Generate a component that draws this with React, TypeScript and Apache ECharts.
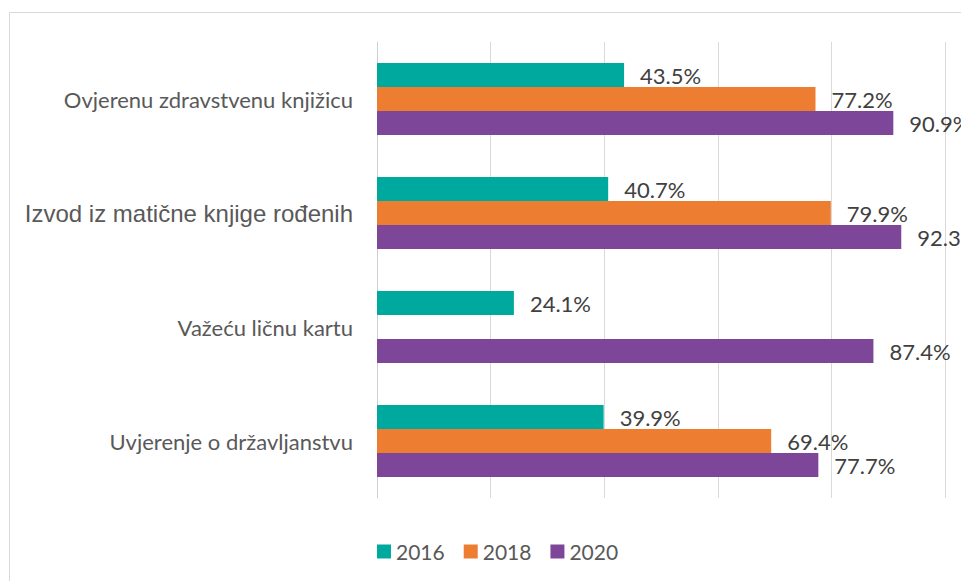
import React, { useEffect, useRef } from "react";
import * as echarts from "echarts";

const categories = [
  "Ovjerenu zdravstvenu knjižicu",
  "Izvod iz matične knjige rođenih",
  "Važeću ličnu kartu",
  "Uvjerenje o državljanstvu",
];
const seriesNames = ["2016", "2018", "2020"];
const values2016 = [43.5, 40.7, 24.1, 39.9];
const values2018: (number | null)[] = [77.2, 79.9, null, 69.4];
const values2020 = [90.9, 92.3, 87.4, 77.7];
const colors = ["#00A99D", "#ED7D31", "#7D4698"];

export default function App() {
  const ref = useRef<HTMLDivElement>(null);
  useEffect(() => {
    if (!ref.current) return;
    const chart = echarts.init(ref.current, undefined, { renderer: "svg" });
    const dataSets = [values2016, values2018, values2020];
    chart.setOption({
      animation: false,
      backgroundColor: "#ffffff",
      graphic: [
        {
          type: "rect",
          shape: { x: 9.5, y: 12.5, width: 1000, height: 1000 },
          style: { fill: "none", stroke: "#d9d9d9", lineWidth: 1 },
          silent: true,
          z: -1,
        },
      ],
      grid: { left: 377, right: 16, top: 42, bottom: 83, containLabel: false },
      legend: {
        left: 372,
        top: 536,
        itemWidth: 14,
        itemHeight: 14,
        itemGap: 19,
        icon: "rect",
        textStyle: { fontFamily: "Lato", fontSize: 21, color: "#595959" },
        data: seriesNames,
      },
      xAxis: {
        type: "value",
        min: 0,
        max: 100,
        interval: 20,
        axisLabel: { show: false },
        axisLine: { show: false },
        axisTick: { show: false },
        splitLine: { show: true, lineStyle: { color: "#d9d9d9", width: 1 } },
      },
      yAxis: {
        type: "category",
        inverse: true,
        data: categories,
        axisTick: { show: false },
        axisLine: { show: true, lineStyle: { color: "#d0d0d0", width: 1 } },
        axisLabel: {
          margin: 24,
          formatter: (v: string) => (v.startsWith("Izvod") ? `{b|${v}}` : `{a|${v}}`),
          rich: {
            a: { fontFamily: "Lato", fontSize: 22, color: "#595959" },
            b: { fontFamily: "Liberation Sans", fontSize: 24, color: "#595959" },
          },
        },
      },
      series: seriesNames.map((name, i) => ({
        name,
        type: "bar",
        data: dataSets[i],
        barWidth: 24,
        barGap: "0%",
        itemStyle: { color: colors[i] },
        label: {
          show: true,
          position: "right",
          distance: 16,
          fontFamily: "Lato",
          fontSize: 22,
          color: "#404040",
          formatter: (p: any) => `${Number(p.value).toFixed(1)}%`,
        },
      })),
    });
    return () => chart.dispose();
  }, []);
  return (
    <div
      ref={ref}
      style={{ position: "fixed", left: 0, top: 0, width: 961, height: 581 }}
    />
  );
}
